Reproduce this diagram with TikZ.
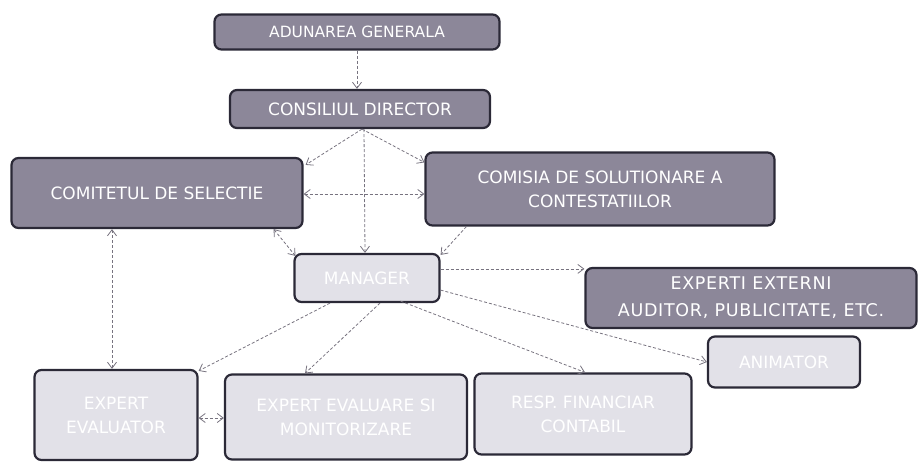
\documentclass[tikz,border=0pt]{standalone}
\usepackage{fontspec}
\setmainfont{DejaVu Sans}
\usetikzlibrary{arrows.meta,positioning}
\definecolor{darkbox}{HTML}{8C8799}
\definecolor{lightbox}{HTML}{E2E1E8}
\definecolor{boxline}{HTML}{2B2937}
\definecolor{linkgray}{HTML}{77737F}
\tikzset{
  darkunit/.style={draw=boxline, line width=2.2pt, rounded corners=7pt, fill=darkbox,
    text=white, font=\fontsize{17}{24}\selectfont, align=center, inner sep=0pt},
  lightunit/.style={darkunit, fill=lightbox, text=white},
  link/.style={-{Straight Barb[length=6pt,width=9pt]}, linkgray, densely dashed, line width=0.8pt},
  dlink/.style={link, {Straight Barb[length=6pt,width=9pt]}-{Straight Barb[length=6pt,width=9pt]}}
}

\begin{document}
\begin{tikzpicture}[x=1pt,y=-1pt]
\useasboundingbox (0,0) rectangle (918,463);
% Conducere
\node[darkunit, minimum width=285pt, minimum height=35pt, font=\fontsize{15.5}{20}\selectfont] (ag) at (357,32) {ADUNAREA GENERALA};
\node[darkunit, minimum width=260pt, minimum height=38pt] (cd) at (360,109) {CONSILIUL DIRECTOR};
\node[darkunit, minimum width=291pt, minimum height=70pt] (cs) at (157,193) {COMITETUL DE SELECTIE};
\node[darkunit, minimum width=349pt, minimum height=73pt] (csc) at (600,189) {COMISIA DE SOLUTIONARE A\\CONTESTATIILOR};
% Echipa tehnica
\node[lightunit, minimum width=145pt, minimum height=48pt] (mgr) at (367,278) {MANAGER};
\node[darkunit, minimum width=331pt, minimum height=60pt,
  font=\fontsize{17.5}{27}\selectfont\addfontfeatures{LetterSpace=4}] (ext) at (751,298) {EXPERTI EXTERNI\\AUDITOR, PUBLICITATE, ETC.};
\node[lightunit, minimum width=152pt, minimum height=51pt] (anim) at (784,362) {ANIMATOR};
\node[lightunit, minimum width=163pt, minimum height=90pt] (ev) at (116,415) {EXPERT\\EVALUATOR};
\node[lightunit, minimum width=242pt, minimum height=85pt] (em) at (346,417) {EXPERT EVALUARE SI\\MONITORIZARE};
\node[lightunit, minimum width=217pt, minimum height=81pt] (rfc) at (583,414) {RESP. FINANCIAR\\CONTABIL};

% Legaturi
\draw[link] (ag.south) -- (ag.south |- cd.north);
\draw[link] ([xshift=2pt]cd.south) -- ([xshift=2pt,yshift=-8pt]cs.north east);
\draw[link] ([xshift=2pt]cd.south) -- ([yshift=-11pt]csc.north west);
\draw[link] ([xshift=4pt]cd.south) -- ([xshift=-2pt]mgr.north);
\draw[dlink] ([yshift=-1pt]cs.east) -- ([yshift=-5pt]csc.west);
\draw[dlink] ([xshift=-30pt]cs.south east) -- ([xshift=2pt,yshift=-3pt]mgr.north west);
\draw[link] ([xshift=42pt]csc.south west) -- ([yshift=-2pt]mgr.north east);
\draw[dlink] ([xshift=-45pt]cs.south) -- ([xshift=-4pt]ev.north);
\draw[link] ([yshift=-16pt]mgr.north east) -- ([yshift=-2pt]ext.north west);
\draw[link] ([xshift=-37pt]mgr.south) -- ([yshift=-2pt]ev.north east);
\draw[link] ([xshift=13pt]mgr.south) -- ([xshift=-41pt]em.north);
\draw[link] ([xshift=-40pt,yshift=2pt]mgr.south east) -- ([xshift=2pt]rfc.north);
\draw[link] ([yshift=13pt]mgr.south east) -- (anim.west);
\draw[dlink] ([yshift=-3pt]ev.east) -- ([yshift=-1pt]em.west);
\end{tikzpicture}
\end{document}
